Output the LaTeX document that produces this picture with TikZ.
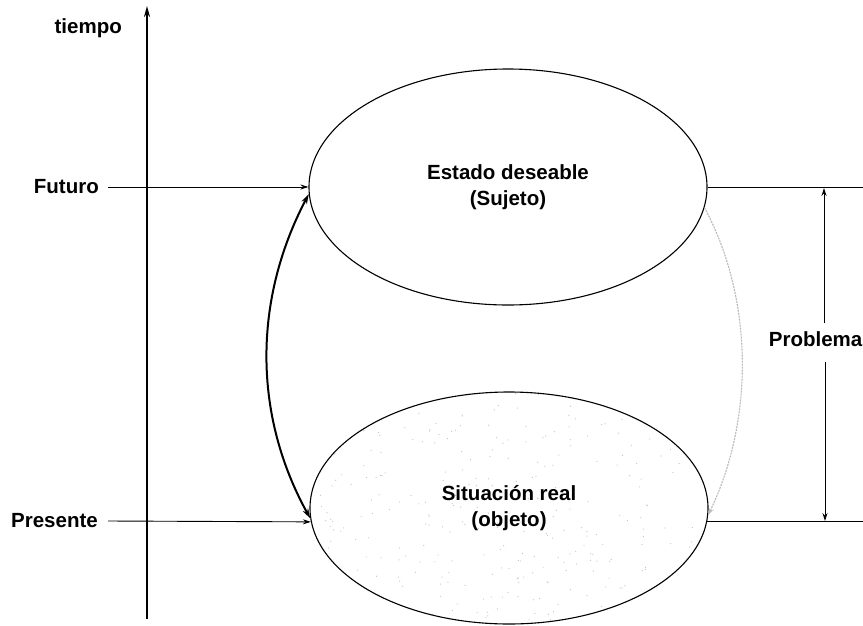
\documentclass[tikz,border=0pt]{standalone}
\usepackage{fontspec}
\setmainfont{Liberation Sans}
\usetikzlibrary{shapes.geometric,arrows.meta}
\begin{document}
\begin{tikzpicture}[x=1pt,y=-1pt,
  lbl/.style={font=\bfseries\fontsize{20.5}{26}\selectfont, inner sep=0pt},
  stateell/.style={ellipse, draw, line width=1.1pt, minimum width=398pt,
    inner sep=0pt, align=center, font=\bfseries\fontsize{20.5}{26}\selectfont},
  tip/.style={-{Stealth[length=8pt,width=5pt]}},
  guide/.style={line width=0.9pt},
  axisline/.style={line width=1.8pt, -{Stealth[length=11pt,width=6pt]}},
  linkcurve/.style={line width=2pt, {Stealth[length=10pt,width=6pt]}-{Stealth[length=10pt,width=6pt]}},
  feedback/.style={gray!55, line width=1.1pt, dash pattern=on 2pt off 1pt, -{Stealth[length=7pt,width=5pt]}},
  stip/.style={fill=gray!50}]
\useasboundingbox (0,0) rectangle (863,625);

% stippled interior of the lower ellipse
\begin{scope}
  \clip (509,508) ellipse [x radius=199pt, y radius=116pt];
  \pgfmathsetseed{42}
  \foreach \k in {1,...,320} {
    \fill[stip] ({509+199*rand},{508+116*rand}) circle (0.6pt);
  }
\end{scope}

% time axis
\coordinate (axbot) at (147,619);
\coordinate (axtop) at (147,6);
\draw[axisline] (axbot) -- (axtop);

% labels on the left and right
\node[lbl, anchor=base east] (tiempo) at (122,33) {tiempo};
\node[lbl, anchor=east] (futuro) at (99,187) {Futuro};
\node[lbl, anchor=east] (presente) at (98,521) {Presente};
\node[lbl, anchor=east] (problema) at (862.5,339) {Problema};

% the two states
\node[stateell, minimum height=236pt] (up) at (508,187) {Estado deseable\\(Sujeto)};
\node[stateell, minimum height=232pt] (low) at (509,508) {Situación real\\(objeto)};

% guide lines from the time labels
\draw[guide, tip] ([xshift=9pt]futuro.east) -- (up.west);
\draw[guide, tip] ([xshift=10pt]presente.east) -- (low.184);

% guide lines to the right edge
\coordinate (redge) at (863,0);
\draw[guide] (up.east) -- (up.east -| redge);
\draw[guide] (low.-4) -- (low.-4 -| redge);

% problem dimension arrows
\coordinate (dtop) at (824,188);
\coordinate (dmidA) at (824,323);
\coordinate (dmidB) at (825,362);
\coordinate (dbot) at (825,521);
\draw[guide, tip] (dmidA) -- (dtop);
\draw[guide, tip] (dmidB) -- (dbot);

% connecting curves between the states
\draw[linkcurve] (up.182) .. controls (253,300) and (253,415) .. (low.183);
\draw[feedback] (up.-6) .. controls (754,300) and (754,420) .. (low.-2);
\end{tikzpicture}
\end{document}
